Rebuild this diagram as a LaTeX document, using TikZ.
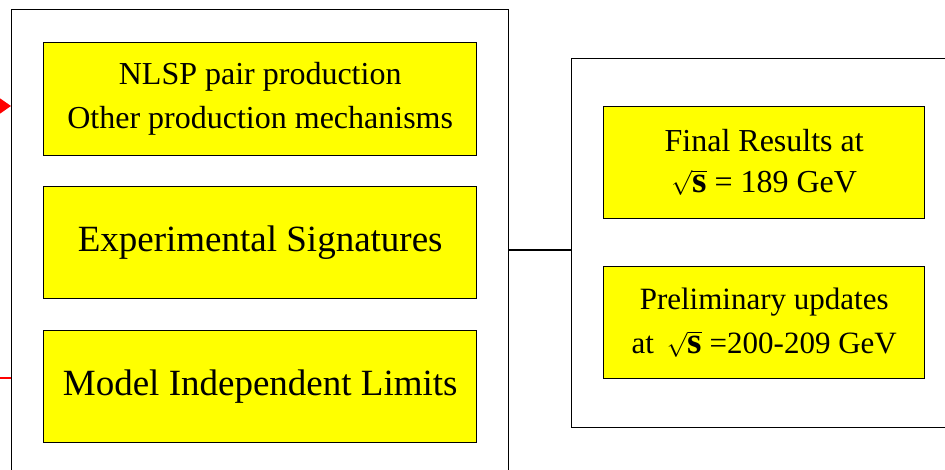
\documentclass[tikz,border=0pt]{standalone}
\usepackage{fontspec}
\setmainfont{Liberation Serif}
\usetikzlibrary{arrows.meta}
\definecolor{ylw}{RGB}{255,255,0}
\newcommand{\rootS}{{\fontsize{37}{37}\selectfont$\sqrt{\textbf{s}}$}}
\begin{document}
\begin{tikzpicture}[x=1pt,y=-1pt,
  frame/.style={draw=black,line width=1.4pt},
  ybox/.style={draw=black,line width=1.4pt,fill=ylw,align=center,anchor=north west,inner sep=0pt},
  redarr/.style={red,line width=1.2pt,-{Triangle[length=11pt,width=15pt]}},
  redline/.style={red,line width=1.2pt}]
\useasboundingbox (0,0) rectangle (945,470);
\path[clip] (0,0) rectangle (945,470);
% outer frames
\node[frame,minimum width=497pt,minimum height=480pt,anchor=north west,inner sep=0pt] (L) at (11,9) {};
\node[frame,minimum width=380pt,minimum height=369pt,anchor=north west,inner sep=0pt] (R) at (571,58) {};
% yellow boxes left
\node[ybox,minimum width=433pt,minimum height=113pt,font=\fontsize{32}{44}\selectfont] (b1) at (43,42) {NLSP pair production\\Other production mechanisms};
\node[ybox,minimum width=433pt,minimum height=112pt,font=\fontsize{37}{42}\selectfont] (b2) at (43,186) {Experimental Signatures};
\node[ybox,minimum width=433pt,minimum height=112pt,font=\fontsize{37}{42}\selectfont] (b3) at (43,330) {Model Independent Limits};
% yellow boxes right
\node[ybox,minimum width=321pt,minimum height=112pt,font=\fontsize{32}{41}\selectfont] (c1) at (603,106) {Final Results at\\\rootS{} = 189 GeV};
\node[ybox,minimum width=321pt,minimum height=112pt,font=\fontsize{31}{44}\selectfont] (c2) at (603,266) {Preliminary updates\\at \,\rootS{} =200-209 GeV};
% connector
\draw[line width=1.4pt] (L.east |- 0,250) -- (R.west |- 0,250);
% red marks at left
\coordinate (r1s) at (-5,106);
\coordinate (r2s) at (-5,378);
\draw[redarr] (r1s) -- (L.west |- r1s);
\draw[redline] (r2s) -- (L.west |- r2s);
\end{tikzpicture}
\end{document}
